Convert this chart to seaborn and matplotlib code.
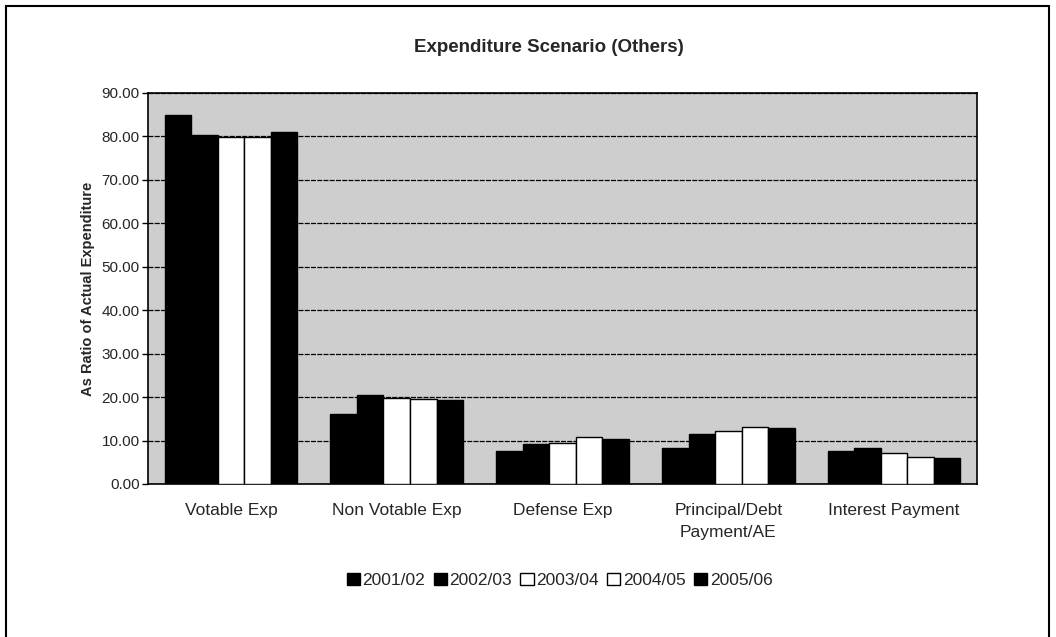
import matplotlib
matplotlib.use("Agg")
import matplotlib.pyplot as plt
import seaborn as sns
import pandas as pd
from matplotlib.patches import Rectangle

categories = ["Votable Exp", "Non Votable Exp", "Defense Exp",
              "Principal/Debt\nPayment/AE", "Interest Payment"]
years = ["2001/02", "2002/03", "2003/04", "2004/05", "2005/06"]

# one list per year, in category order
y2001 = [84.8, 16.1, 7.5, 8.3, 7.5]
y2002 = [80.3, 20.5, 9.1, 11.6, 8.2]
y2003 = [79.8, 19.8, 9.5, 12.1, 7.2]
y2004 = [79.9, 19.6, 10.8, 13.2, 6.3]
y2005 = [81.0, 19.4, 10.4, 12.9, 6.0]
bar_colors = ["black", "black", "white", "white", "black"]

rows = []
for yr, vals in zip(years, [y2001, y2002, y2003, y2004, y2005]):
    for cat, v in zip(categories, vals):
        rows.append({"Category": cat, "Year": yr, "Value": v})
df = pd.DataFrame(rows)

sns.set_style("white")
plt.rcParams["font.family"] = ["Liberation Sans", "DejaVu Sans"]

fig = plt.figure(figsize=(10.56, 6.37), dpi=100)
ax = fig.add_axes([0.1402, 0.2402, 0.785, 0.614])
ax.set_facecolor("#cecece")

sns.barplot(data=df, x="Category", y="Value", hue="Year", order=categories,
            hue_order=years, palette=dict(zip(years, bar_colors)),
            width=0.8, gap=0, edgecolor="black", linewidth=1, ax=ax,
            legend=True, zorder=3)

ax.set_ylim(0, 90)
ax.set_yticks(range(0, 91, 10))
ax.set_yticklabels([f"{v:.2f}" for v in range(0, 91, 10)], fontsize=11)
ax.yaxis.grid(True, color="black", linewidth=0.9, linestyle=(0, (4, 1)))
ax.set_axisbelow(True)
for s in ax.spines.values():
    s.set_visible(True)
    s.set_color("black")
    s.set_linewidth(1.2)
ax.tick_params(axis="y", left=True, length=4, width=1, color="black", pad=2)
ax.tick_params(axis="x", bottom=False, labelsize=12.5, pad=10)
for lbl in ax.get_xticklabels():
    lbl.set_linespacing(1.6)
ax.set_xlabel("")
ax.set_ylabel("As Ratio of Actual Expenditure", fontsize=10.5,
              fontweight="bold", labelpad=5)

leg = ax.legend(loc="center", bbox_to_anchor=(0.53, 0.089),
                bbox_transform=fig.transFigure, ncol=5, frameon=False,
                fontsize=12.5, handlelength=0.75, handleheight=0.75,
                handletextpad=0.15, columnspacing=0.5)

fig.text(0.52, 0.925, "Expenditure Scenario (Others)", ha="center",
         va="center", fontsize=13.5, fontweight="bold")

fig.patches.append(Rectangle((0.006, -0.05), 0.987, 1.04, transform=fig.transFigure,
                             fill=False, edgecolor="black", linewidth=1.5))

fig.savefig("out.png", dpi=100)
